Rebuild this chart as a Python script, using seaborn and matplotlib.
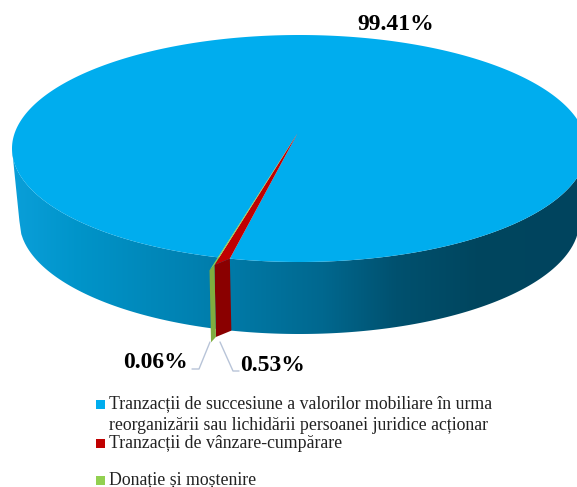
import numpy as np
import matplotlib
matplotlib.use('Agg')
import matplotlib.pyplot as plt
import seaborn as sns
from matplotlib.colors import LinearSegmentedColormap
from matplotlib.patches import Polygon, Rectangle

# Chart data
shares = [99.41, 0.53, 0.06]
share_labels = ['99.41%', '0.53%', '0.06%']
legend_lines = [
    ['Tranzacții de succesiune a valorilor mobiliare în urma',
     'reorganizării sau lichidării persoanei juridice acționar'],
    ['Tranzacții de vânzare-cumpărare'],
    ['Donație și moștenire'],
]

# Colours
palette = sns.color_palette(['#00ADEE', '#C00000', '#92D050'])
side_colors = [None, '#8A0000', '#7FAE3F']
rim_x = [0.0, 0.12, 0.32, 0.55, 0.68, 0.82, 1.0]
rim_colors = ['#0A9FD9', '#0094C9', '#0081B1', '#00688F', '#00516F', '#00465F', '#00445E']
leader_color = '#B8C4D8'

# Geometry of the tilted disc, in pixels
W, H = 577, 487
cx, cy, rx, ry = 299.4, 148.5, 287.4, 113.5
bottom_cy, bottom_rx, bottom_ry = 221.0, 280.0, 113.0
tilt = -0.132   # pie centre sits above the middle of the ellipse
start_angle = 255.6
stretch = [1, 1.47, 4.2]   # thin slices are drawn wider than their share
lips = [(0, 0), (0, 8), (8, 14)]   # front corners hang below the rim
depth = 72
depth_dx = 1.5

sns.set_theme(style='white')
plt.rcParams['font.family'] = ['Liberation Serif', 'DejaVu Serif']


def project(theta):
    t = np.radians(theta)
    u, v = np.cos(t), -np.sin(t)
    d = 1 + v * tilt
    x = u * np.sqrt(1 - tilt ** 2) / d
    y = (v + tilt) / d
    return cx + rx * x, cy + ry * y


fig = plt.figure(figsize=(W / 100, H / 100), dpi=100)
ax = fig.add_axes([0, 0, 1, 1])

# let pie work out the slice angles, the tilted shapes are drawn from them
wedges, _ = ax.pie(shares, startangle=start_angle, counterclock=False, colors=palette)
angles = [(w.theta1, w.theta2) for w in wedges]
for w in wedges:
    w.remove()
ax.set_aspect('auto')
ax.set_xlim(0, W)
ax.set_ylim(H, 0)
ax.axis('off')

# side of the disc with the left to right shading
xs = np.linspace(cx - rx, W + 5, 300)
top_y = cy + ry * np.sqrt(np.clip(1 - ((xs - cx) / rx) ** 2, 0, 1))
xb = np.linspace(cx - bottom_rx, W + 5, 300)
bot_y = bottom_cy + bottom_ry * np.sqrt(np.clip(1 - ((xb - cx) / bottom_rx) ** 2, 0, 1))
outline = np.vstack([np.column_stack([xs, top_y]), np.column_stack([xb, bot_y])[::-1]])
cmap = LinearSegmentedColormap.from_list('rim', list(zip(rim_x, rim_colors)))
img = ax.imshow(np.linspace(0, 1, 256)[None, :], cmap=cmap, aspect='auto',
                extent=(cx - rx, W, 345, 140), zorder=1)
clip = Polygon(outline, transform=ax.transData, facecolor='none', edgecolor='none')
ax.add_patch(clip)
img.set_clip_path(clip)
ax.set_xlim(0, W)
ax.set_ylim(H, 0)

# top face
apex = (cx - 2, cy + ry * tilt)
theta = np.linspace(angles[0][0], angles[0][1], 720)
px, py = project(theta)
ax.fill(np.r_[apex[0], px], np.r_[apex[1], py], color=palette[0], lw=0, zorder=2)

# thin slices with their front walls
edge = angles[1][1]
for i in (1, 2):
    span = (angles[i][1] - angles[i][0]) * stretch[i]
    theta = np.linspace(edge, edge - span, 6)
    edge = edge - span
    px, py = project(theta)
    py = py + np.linspace(lips[i][0], lips[i][1], 6)
    ax.fill(np.r_[px, px[::-1] + depth_dx], np.r_[py, py[::-1] + depth],
            color=side_colors[i], lw=0, zorder=3)
    ax.fill(np.r_[apex[0], px], np.r_[apex[1], py], color=palette[i], lw=0, zorder=4)

# value labels
label_style = dict(fontsize=17, fontweight='bold', color='#000000', va='baseline')
ax.text(357.5, 30, share_labels[0], ha='left', **label_style)
ax.text(240, 371, share_labels[1], ha='left', **label_style)
ax.text(123, 368, share_labels[2], ha='left', **label_style)
ax.plot([210, 199, 192], [342, 369, 369], color=leader_color, lw=1, zorder=2)
ax.plot([220, 233, 239], [342, 371, 371], color=leader_color, lw=1, zorder=2)

# legend
legend_y = [[404, 425], [443], [480]]
for color, lines, ys in zip(palette, legend_lines, legend_y):
    ax.add_patch(Rectangle((96, ys[0] - 4.5), 9, 9, facecolor=color, edgecolor='none'))
    for line, y in zip(lines, ys):
        ax.text(109, y, line, fontsize=12.75, color='#222222', ha='left', va='center')

fig.savefig('out.png', dpi=100, facecolor='white')
